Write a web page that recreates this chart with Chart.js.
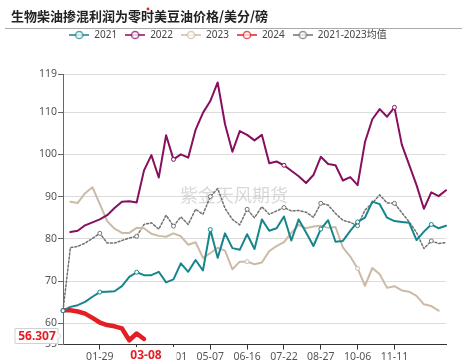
<!DOCTYPE html>
<html>
<head>
<meta charset="utf-8">
<script src="https://cdn.jsdelivr.net/npm/chart.js@4.4.1/dist/chart.umd.min.js"></script>
<style>
  body { margin: 0; background: #fff; }
  #wrap { width: 467px; height: 364px; }
</style>
</head>
<body>
<div id="wrap"><canvas id="priceChart" width="467" height="364"></canvas></div>
<script>
// x categories (week dates)
const dates = ['01-02', '01-08', '01-12', '01-16', '01-22', '01-29', '02-05', '02-09', '02-19', '02-26',
    '03-01', '03-08', '03-15', '03-19', '03-26', '04-01', '04-08', '04-15', '04-22', '04-29',
    '05-07', '05-14', '05-21', '05-28', '06-07', '06-16', '06-23', '06-30', '07-07', '07-15',
    '07-22', '07-29', '08-05', '08-12', '08-19', '08-27', '09-03', '09-10', '09-17', '09-26',
    '10-06', '10-13', '10-20', '10-27', '11-03', '11-11', '11-18', '11-25', '12-02', '12-09',
    '12-16', '12-23', '12-30'];

const values2021 = [63.0, 63.9, 64.3, 65.1, 66.3, 67.4, 67.5, 67.6, 68.8, 71.0,
    72.1, 71.4, 71.4, 72.2, 69.7, 70.4, 74.2, 72.2, 75.0, 72.5,
    82.2, 75.5, 81.3, 77.8, 77.4, 81.1, 77.6, 84.6, 81.9, 82.5,
    85.3, 79.6, 84.6, 81.5, 78.3, 82.3, 84.4, 79.3, 79.5, 81.9,
    84.0, 85.0, 88.8, 88.2, 85.0, 84.2, 84.0, 83.8, 79.7, 81.7,
    83.4, 82.5, 83.1];

const values2022 = [null, 81.6, 81.9, 83.2, 83.9, 84.6, 85.6, 87.3, 88.8, 88.9,
    88.6, 96.2, 99.8, 94.5, 104.5, 98.8, 100.0, 99.2, 105.8, 109.8,
    112.6, 117.0, 107.1, 100.6, 105.5, 104.6, 103.3, 104.6, 97.9, 98.3,
    97.4, 96.1, 94.8, 93.2, 95.1, 99.4, 97.7, 97.4, 93.8, 94.6,
    92.7, 102.9, 108.3, 110.7, 108.9, 111.1, 102.3, 97.5, 92.7, 87.1,
    91.0, 90.1, 91.5];

const values2023 = [null, 88.8, 88.5, 90.8, 92.2, 88.2, 84.2, 82.4, 81.4, 81.4,
    82.6, 82.5, 81.2, 80.7, 80.5, 81.3, 80.6, 78.6, 79.2, 75.5,
    76.6, 77.9, 77.2, 72.8, 74.6, 74.6, 74.0, 74.4, 77.1, 78.3,
    79.2, 81.4, 83.3, 82.5, 82.9, 83.1, 82.6, 82.8, 78.0, 75.8,
    73.0, 68.9, 73.1, 71.6, 68.4, 68.8, 67.8, 67.5, 66.5, 64.5,
    64.1, 63.0, null];

const values2024 = [63.1, 63.1, 62.8, 62.3, 61.3, 60.2, 59.6, 59.3, 58.8, 56.0, 57.6, 56.307];

const valuesAvg = [63.0, 77.9, 78.2, 79.0, 80.1, 81.3, 79.0, 79.0, 79.6, 80.2,
    80.6, 83.4, 83.8, 82.3, 85.6, 83.0, 85.2, 83.4, 87.0, 85.8,
    90.0, 91.9, 87.2, 84.6, 83.3, 87.0, 85.0, 87.6, 85.8, 86.6,
    87.4, 86.6, 86.7, 86.3, 85.1, 88.4, 88.0, 86.0, 84.4, 83.9,
    83.1, 86.8, 88.5, 90.4, 88.5, 88.4, 86.2, 84.0, 81.5, 77.7,
    79.5, 78.9, 79.1];

const yTicks = [55, 60, 70, 80, 90, 100, 110, 119];

// which points show a hollow marker, per series
const markers2021 = [0, 5, 10, 20, 35, 40, 50];
const markers2022 = [15, 30, 45];
const markers2023 = [25, 40];
const markersAvg = [0, 5, 10, 15, 20, 25, 30, 35, 40, 45, 50];

const titleText = '生物柴油掺混利润为零时美豆油价格/美分/磅';
const watermark = '紫金天风期货';
const red = '#e31e24';

Chart.defaults.font.family = "'Noto Sans', 'Noto Sans CJK SC', sans-serif";

function isLabelIndex(i) {
    return i % 5 === 0 && i > 0 && i < 50;
}

function legendIcon(color) {
    const c = document.createElement('canvas');
    c.width = 20;
    c.height = 10;
    const g = c.getContext('2d');
    g.globalAlpha = 0.75;
    g.strokeStyle = color;
    g.lineWidth = 2;
    g.beginPath();
    g.moveTo(0, 5);
    g.lineTo(20, 5);
    g.stroke();
    g.beginPath();
    g.arc(10, 5, 3.6, 0, Math.PI * 2);
    g.fillStyle = '#fff';
    g.fill();
    g.lineWidth = 1.5;
    g.stroke();
    return c;
}

function lineSet(label, data, color, width, markerIdx, dash) {
    return {
        label: label,
        data: data,
        borderColor: color,
        backgroundColor: color,
        borderWidth: width,
        borderDash: dash || [],
        borderJoinStyle: 'round',
        borderCapStyle: 'round',
        tension: 0,
        fill: false,
        pointRadius: ctx => markerIdx.includes(ctx.dataIndex) ? 2 : 0,
        pointBackgroundColor: '#fff',
        pointBorderColor: color,
        pointBorderWidth: 1,
        pointHoverRadius: 0
    };
}

const colors = ['#16868c', '#860f5e', '#cbbba6', red, '#707070'];
const icons = colors.map(c => legendIcon(c));

const legendSpacing = {
    id: 'legendSpacing',
    beforeInit(chart) {
        const fit = chart.legend.fit;
        chart.legend.fit = function () {
            fit.call(this);
            this.height += 24;
        };
    }
};

const decor = {
    id: 'decor',
    beforeDatasetsDraw(chart) {
        const ctx = chart.ctx;
        ctx.save();
        ctx.font = "18px 'Noto Sans CJK SC'";
        ctx.fillStyle = 'rgba(185,185,185,0.55)';
        ctx.textAlign = 'center';
        ctx.textBaseline = 'middle';
        ctx.fillText(watermark, 234, 195);
        ctx.restore();
    },
    afterDraw(chart) {
        const ctx = chart.ctx;
        const xs = chart.scales.x;
        const ys = chart.scales.y;
        ctx.save();

        // title + separator
        ctx.font = "bold 13px 'Noto Sans CJK SC'";
        ctx.fillStyle = '#222';
        ctx.textBaseline = 'middle';
        ctx.textAlign = 'left';
        ctx.fillText(titleText, 11, 16);
        ctx.strokeStyle = '#aaa';
        ctx.lineWidth = 1;
        ctx.beginPath();
        ctx.moveTo(5, 28.5);
        ctx.lineTo(462, 28.5);
        ctx.stroke();
        ctx.fillStyle = red;
        ctx.beginPath();
        ctx.arc(148, 9, 1.4, 0, Math.PI * 2);
        ctx.fill();

        // axis pointer labels for the latest 2024 value
        const last = values2024.length - 1;
        const px = xs.getPixelForValue(last) + 2;
        ctx.font = "bold 12px 'Noto Sans'";
        const dateText = dates[last];
        const dw = ctx.measureText(dateText).width;
        ctx.fillStyle = '#fff';
        ctx.fillRect(px - dw / 2 - 12, 347, dw + 27, 17);
        ctx.fillStyle = red;
        ctx.textAlign = 'center';
        ctx.fillText(dateText, px, 356);

        const py = ys.getPixelForValue(values2024[last]) - 3;
        const top = py - 7.5, bottom = py + 7.5;
        ctx.beginPath();
        ctx.moveTo(15, top);
        ctx.lineTo(58, top);
        ctx.lineTo(58, py - 3);
        ctx.lineTo(61, py);
        ctx.lineTo(58, py + 3);
        ctx.lineTo(58, bottom);
        ctx.lineTo(15, bottom);
        ctx.closePath();
        ctx.fillStyle = '#fff';
        ctx.fill();
        ctx.strokeStyle = '#d0d0d0';
        ctx.stroke();
        ctx.fillStyle = red;
        ctx.fillText(values2024[last].toFixed(3), 37, py + 0.5);
        ctx.restore();
    }
};

new Chart(document.getElementById('priceChart').getContext('2d'), {
    type: 'line',
    data: {
        labels: dates,
        datasets: [
            lineSet('2021', values2021, colors[0], 2, markers2021),
            lineSet('2022', values2022, colors[1], 2, markers2022),
            lineSet('2023', values2023, colors[2], 2, markers2023),
            lineSet('2024', values2024, colors[3], 4.5, []),
            lineSet('2021-2023均值', valuesAvg, colors[4], 1.5, markersAvg, [2, 2])
        ]
    },
    options: {
        responsive: false,
        animation: false,
        layout: { padding: { top: 22, left: 10, right: 21, bottom: 0 } },
        plugins: {
            tooltip: { enabled: false },
            legend: {
                position: 'top',
                labels: {
                    usePointStyle: true,
                    pointStyleWidth: 20,
                    boxHeight: 10,
                    padding: 8,
                    color: '#444',
                    font: { size: 10 },
                    generateLabels(chart) {
                        const items = Chart.defaults.plugins.legend.labels.generateLabels(chart);
                        items.forEach((item, i) => { item.pointStyle = icons[i]; });
                        return items;
                    }
                }
            }
        },
        scales: {
            x: {
                type: 'category',
                offset: false,
                grid: {
                    drawOnChartArea: false,
                    drawTicks: true,
                    tickLength: 5,
                    tickColor: ctx => isLabelIndex(ctx.index) ? '#333' : 'rgba(0,0,0,0)'
                },
                border: { color: '#333' },
                ticks: {
                    autoSkip: false,
                    maxRotation: 0,
                    padding: 1,
                    color: '#555',
                    font: { size: 10.5 },
                    callback: (v, i) => isLabelIndex(i) ? dates[i] : ''
                },
                afterFit: s => { s.height = 19.5; }
            },
            y: {
                min: 55,
                max: 119,
                afterBuildTicks: s => { s.ticks = yTicks.map(v => ({ value: v })); },
                grid: { color: '#dcdcdc', tickLength: 5, tickColor: '#666' },
                border: { color: '#666' },
                ticks: { padding: 1, color: '#555', font: { size: 10.5 } },
                afterFit: s => { s.width = 53; }
            }
        }
    },
    plugins: [legendSpacing, decor]
});
</script>
</body>
</html>
